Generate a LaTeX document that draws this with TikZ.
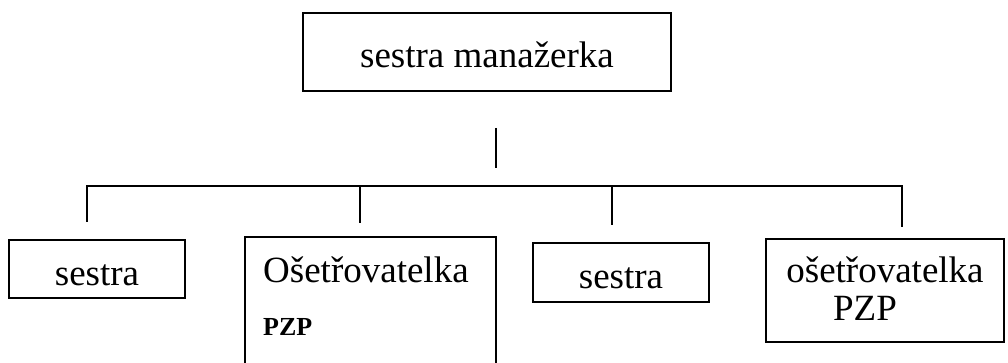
\documentclass[tikz,border=0pt]{standalone}
\usepackage{fontspec}
\setmainfont{Liberation Serif}
\begin{document}
\begin{tikzpicture}[x=1pt,y=-1pt,
  box/.style={draw,line width=2pt,inner sep=0pt,rectangle},
  big/.style={font=\fontsize{37}{40}\selectfont},
  lowtext/.style={text height=32pt,text depth=0pt},
  small/.style={font=\fontsize{26}{28}\selectfont\bfseries},
  conn/.style={line width=2pt}]
\useasboundingbox (0,0) rectangle (1008,363);
\clip (0,0) rectangle (1008,363);
% top box
\node[box,big,lowtext,minimum width=368pt,minimum height=78pt] (top) at (487,52) {sestra manažerka};
% bottom boxes
\node[box,big,lowtext,minimum width=176pt,minimum height=58pt] (s1) at (97,269) {sestra};
\node[box,minimum width=251pt,minimum height=138pt] (o1) at (370.5,306) {};
\node[big,anchor=base west,inner sep=0pt] (o1t) at (263,282) {Ošetřovatelka};
\node[small,anchor=base west,inner sep=0pt] (o1p) at (263,335) {PZP};
\node[box,big,lowtext,minimum width=176pt,minimum height=59pt] (s2) at (621,272.5) {sestra};
\node[box,minimum width=238pt,minimum height=103pt] (o2) at (885,290.5) {};
\node[big,anchor=base,inner sep=0pt] (o2t) at (885,282) {ošetřovatelka};
\node[big,anchor=base,inner sep=0pt] (o2p) at (865,320) {PZP};
% connectors
\coordinate (vt) at (496,128);
\coordinate (vb) at (496,168);
\draw[conn] (vt) -- (vb);
\coordinate (h1) at (87,186);
\coordinate (h2) at (360,186);
\coordinate (h3) at (612,186);
\coordinate (h4) at (902,186);
\coordinate (e1) at (87,222);
\coordinate (e2) at (360,223);
\coordinate (e3) at (612,225);
\coordinate (e4) at (902,227);
\draw[conn] (e1) -- (h1) -- (h4) -- (e4);
\draw[conn] (h2) -- (e2);
\draw[conn] (h3) -- (e3);
\end{tikzpicture}
\end{document}
